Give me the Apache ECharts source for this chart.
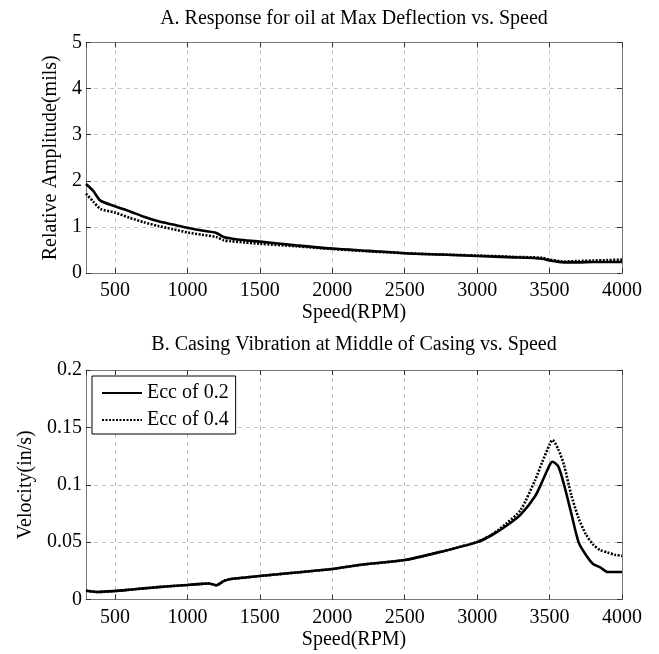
<!DOCTYPE html>
<html>
<head>
<meta charset="utf-8">
<script src="https://cdn.jsdelivr.net/npm/echarts@6/dist/echarts.min.js"></script>
<style>html,body{margin:0;padding:0;background:#fff}#c{width:659px;height:654px}</style>
</head>
<body>
<div id="c"></div>
<script>
// ---- Data ----
const seriesNames = ['Ecc of 0.2', 'Ecc of 0.4'];
const titleA = 'A. Response for oil at Max Deflection vs. Speed';
const titleB = 'B. Casing Vibration at Middle of Casing vs. Speed';

const rpmA = [300,350,400,500,600,700,800,900,1000,1100,1200,1250,1300,1400,1500,1750,2000,2250,2500,2750,3000,3250,3450,3500,3600,3700,3800,3900,4000];
const ampA02 = [1.93,1.78,1.57,1.45,1.34,1.22,1.12,1.05,0.98,0.92,0.87,0.78,0.75,0.71,0.68,0.60,0.53,0.48,0.43,0.40,0.37,0.34,0.31,0.27,0.23,0.23,0.24,0.24,0.24];
const ampA04 = [1.72,1.55,1.39,1.31,1.20,1.10,1.02,0.95,0.88,0.83,0.78,0.71,0.69,0.66,0.635,0.58,0.52,0.47,0.43,0.40,0.38,0.35,0.33,0.29,0.25,0.26,0.27,0.28,0.29];

const rpmB = [300,385,500,600,700,800,900,1000,1100,1150,1200,1250,1300,1400,1500,1750,2000,2200,2500,2750,3000,3100,3200,3300,3400,3450,3500,3520,3560,3600,3650,3700,3750,3800,3850,3900,3950,4000];
const velB02 = [0.0077,0.0066,0.0074,0.0085,0.0097,0.0108,0.0118,0.0127,0.0136,0.0140,0.0124,0.0160,0.0178,0.0192,0.0205,0.0235,0.0266,0.0303,0.0344,0.0416,0.0500,0.0560,0.0640,0.0740,0.0900,0.1030,0.1170,0.1200,0.1160,0.1000,0.0750,0.0500,0.0390,0.0310,0.0280,0.0240,0.0240,0.0240];
const velB04 = [0.0077,0.0066,0.0074,0.0085,0.0097,0.0108,0.0118,0.0127,0.0136,0.0140,0.0124,0.0160,0.0178,0.0192,0.0205,0.0235,0.0266,0.0303,0.0344,0.0416,0.0502,0.0565,0.0660,0.0780,0.1040,0.1200,0.1350,0.1390,0.1310,0.1170,0.0910,0.0710,0.0570,0.0480,0.0430,0.0410,0.0390,0.0380];

const xMin = 300, xMax = 4000;
const yA = {min: 0, max: 5, interval: 1};
const yB = {min: 0, max: 0.2, interval: 0.05};

// ---- Helpers ----
const zip = (xs, ys) => xs.map((x, i) => [x, ys[i]]);
const FONT = 'Liberation Serif';
const frameColor = '#777';
const gridStyle = {color: '#c4c4c4', width: 1, type: [4, 4]};

function xAxes(gi) {
  return [
    {gridIndex: gi, type: 'value', min: xMin, max: xMax, splitNumber: 8, position: 'bottom',
     name: 'Speed(RPM)', nameLocation: 'middle', nameGap: 30,
     nameTextStyle: {fontFamily: FONT, fontSize: 20, color: '#000'},
     axisLine: {show: true, onZero: false, lineStyle: {color: frameColor, width: 1}},
     axisTick: {show: true, inside: true, length: 5, lineStyle: {color: '#333'}},
     axisLabel: {showMinLabel: false, margin: 8, fontFamily: FONT, fontSize: 20, color: '#000',
                 formatter: v => String(v)},
     splitLine: {show: true, lineStyle: gridStyle}},
    {gridIndex: gi, type: 'value', min: xMin, max: xMax, splitNumber: 8, position: 'top',
     axisLine: {show: true, onZero: false, lineStyle: {color: frameColor, width: 1}},
     axisTick: {show: true, inside: true, length: 5, lineStyle: {color: '#333'}},
     axisLabel: {show: false}, splitLine: {show: false}}
  ];
}
function yAxes(gi, y, name, gap) {
  return [
    {gridIndex: gi, type: 'value', min: y.min, max: y.max, interval: y.interval, position: 'left',
     name: name, nameLocation: 'middle', nameGap: gap, nameRotate: 90,
     nameTextStyle: {fontFamily: FONT, fontSize: 20, color: '#000'},
     axisLine: {show: true, onZero: false, lineStyle: {color: frameColor, width: 1}},
     axisTick: {show: true, inside: true, length: 5, lineStyle: {color: '#333'}},
     axisLabel: {margin: 4, fontFamily: FONT, fontSize: 20, color: '#000', formatter: v => String(v)},
     splitLine: {show: true, lineStyle: gridStyle}},
    {gridIndex: gi, type: 'value', min: y.min, max: y.max, interval: y.interval, position: 'right',
     axisLine: {show: true, onZero: false, lineStyle: {color: frameColor, width: 1}},
     axisTick: {show: true, inside: true, length: 5, lineStyle: {color: '#333'}},
     axisLabel: {show: false}, splitLine: {show: false}}
  ];
}
const solidStyle = {color: '#000', width: 2.6, type: 'solid'};
const dotStyle = {color: '#000', width: 2.6, type: [2, 1.5]};
function line(name, data, xi, yi, style) {
  return {type: 'line', name: name, data: data, xAxisIndex: xi, yAxisIndex: yi,
          showSymbol: false, symbol: 'none', smooth: 0.25, lineStyle: style, itemStyle: {color: '#000'},
          animation: false, z: 5};
}

const chart = echarts.init(document.getElementById('c'), null, {renderer: 'canvas'});
chart.setOption({
  backgroundColor: '#fff',
  animation: false,
  title: [
    {text: titleA, left: 354, top: 9, textAlign: 'center', padding: 0,
     textStyle: {fontFamily: FONT, fontSize: 20, fontWeight: 'normal', color: '#000'}},
    {text: titleB, left: 354, top: 335, textAlign: 'center', padding: 0,
     textStyle: {fontFamily: FONT, fontSize: 20, fontWeight: 'normal', color: '#000'}}
  ],
  grid: [
    {left: 86, top: 42.5, width: 536, height: 230.5, containLabel: false, outerBoundsMode: 'none'},
    {left: 86, top: 370, width: 536, height: 229.5, containLabel: false, outerBoundsMode: 'none'}
  ],
  legend: {
    data: seriesNames, orient: 'vertical', left: 92, top: 376,
    backgroundColor: '#fff', borderColor: '#000', borderWidth: 1,
    padding: [7, 7, 4, 9], itemGap: 7, itemWidth: 40, itemHeight: 18,
    itemStyle: {opacity: 0, borderWidth: 0},
    textStyle: {fontFamily: FONT, fontSize: 20, color: '#000'},
    selectedMode: false
  },
  xAxis: [...xAxes(0), ...xAxes(1)],
  yAxis: [...yAxes(0, yA, 'Relative Amplitude(mils)', 19), ...yAxes(1, yB, 'Velocity(in/s)', 50)],
  series: [
    line(seriesNames[0], zip(rpmA, ampA02), 0, 0, solidStyle),
    line(seriesNames[1], zip(rpmA, ampA04), 0, 0, dotStyle),
    line(seriesNames[0], zip(rpmB, velB02), 2, 2, solidStyle),
    line(seriesNames[1], zip(rpmB, velB04), 2, 2, dotStyle)
  ]
});
</script>
</body>
</html>
